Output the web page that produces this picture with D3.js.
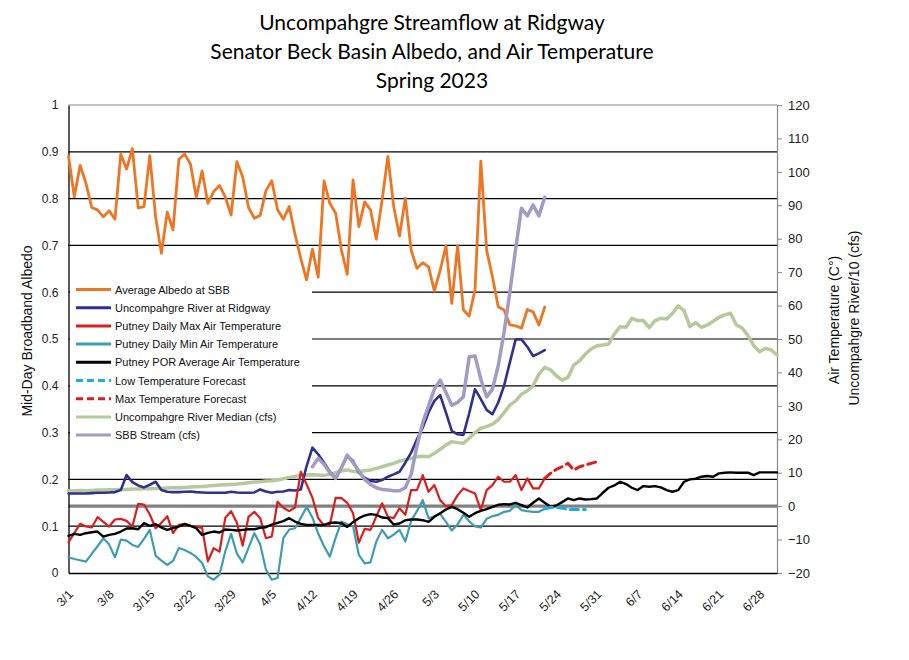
<!DOCTYPE html>
<html><head><meta charset="utf-8">
<script src="https://cdn.jsdelivr.net/npm/d3@7"></script>
<style>
body{margin:0;background:#fff;}
svg{display:block;font-family:"Liberation Sans",Arial,sans-serif;}
</style></head>
<body><svg id="chart" width="909" height="660"></svg>
<script>
// ---------- DATA ----------
const titleLines = ["Uncompahgre Streamflow at Ridgway","Senator Beck Basin Albedo, and Air Temperature","Spring  2023"];
const startDate = "2023-03-01";
const endDate = "2023-07-01";
const xTickLabels = ["3/1","3/8","3/15","3/22","3/29","4/5","4/12","4/19","4/26","5/3","5/10","5/17","5/24","5/31","6/7","6/14","6/21","6/28"];
const leftTicks = [0,0.1,0.2,0.3,0.4,0.5,0.6,0.7,0.8,0.9,1];
const leftTickLabels = ["0","0.1","0.2","0.3","0.4","0.5","0.6","0.7","0.8","0.9","1"];
const rightTicks = [-20,-10,0,10,20,30,40,50,60,70,80,90,100,110,120];

// Average Albedo at SBB, daily from 3/1
const albedo = [0.891,0.804,0.871,0.833,0.781,0.776,0.761,0.774,0.756,0.895,
0.863,0.907,0.780,0.783,0.892,0.761,0.683,0.771,0.733,0.884,
0.895,0.874,0.803,0.859,0.790,0.815,0.828,0.803,0.765,0.879,
0.846,0.781,0.758,0.764,0.817,0.838,0.776,0.756,0.783,0.724,
0.672,0.626,0.692,0.632,0.838,0.790,0.769,0.690,0.638,0.840,
0.740,0.793,0.776,0.713,0.797,0.890,0.783,0.720,0.801,0.690,
0.651,0.663,0.654,0.603,0.647,0.699,0.576,0.699,0.562,0.549,
0.605,0.880,0.690,0.633,0.569,0.562,0.530,0.528,0.523,0.563,
0.558,0.530,0.568];

// Uncompahgre River at Ridgway (cfs/10), daily from 3/1
const river = [3.8,3.8,3.8,3.8,3.9,4.0,4.0,4.1,4.2,4.8,
9.3,7.2,6.2,5.6,6.4,7.3,4.8,4.3,4.2,4.2,
4.3,4.4,4.2,4.1,4.0,4.0,4.0,4.0,4.3,4.1,
4.0,4.0,4.1,5.0,4.4,4.0,4.3,4.4,4.8,4.7,
5.0,12.0,17.5,15.5,13.0,10.3,8.3,11.5,15.0,13.5,
10.0,8.5,7.5,7.3,7.8,8.8,9.5,10.3,13.0,16.0,
20.0,23.5,28.0,31.5,33.2,28.0,22.5,21.5,21.3,27.8,
35.0,32.0,28.8,27.5,31.0,36.0,43.0,49.9,49.9,47.7,
44.9,45.7,46.7];

// Putney Daily Max Air Temperature (C), daily from 3/1
const tMax = [-10.8,-8.1,-5.3,-6.1,-6.4,-3.3,-4.7,-6.1,-4.0,-3.8,
-4.4,-6.1,0.7,0.5,-2.5,-6.6,-5.0,-3.0,-8.1,-5.6,
-5.4,-5.9,-6.2,-6.5,-16.5,-12.6,-13.6,-3.5,-1.5,-5.0,
-11.8,-3.2,-1.7,-3.6,-9.6,-9.1,1.3,-0.5,-1.5,-0.4,
10.3,6.5,2.5,-3.6,-5.8,-5.6,2.5,2.4,1.0,-2.1,
-10.9,-6.8,-7.1,-3.1,0.85,-3.2,-3.6,-0.65,-2.6,4.8,
4.8,9.3,4.3,6.3,1.8,0.0,0.3,3.3,5.3,4.5,
3.8,-1.2,4.8,6.3,8.8,7.3,7.3,9.3,4.8,8.3,
5.3,5.3,8.3];

// Putney Daily Min Air Temperature (C), daily from 3/1
const tMin = [-15.3,-15.8,-16.2,-16.6,-14.3,-12.0,-9.6,-11.5,-15.3,-10.0,
-10.3,-11.6,-12.2,-9.8,-7.1,-14.8,-16.3,-17.6,-16.4,-12.5,
-13.1,-14.0,-15.2,-17.0,-21.0,-22.0,-20.5,-13.5,-8.3,-14.2,
-16.8,-12.5,-8.1,-11.4,-19.0,-22.0,-21.5,-9.5,-7.0,-6.6,
-3.5,-0.3,-3.4,-8.2,-12.0,-15.1,-9.4,-4.6,-5.4,-6.0,
-14.6,-17.1,-16.8,-10.6,-7.1,-9.6,-8.5,-7.1,-10.6,-4.4,
-1.5,1.8,-3.6,-3.0,-2.3,-4.7,-7.3,-5.5,-2.6,-4.5,
-6.1,-6.4,-3.8,-3.0,-2.6,-1.7,-1.4,0.3,-1.2,-1.5,
-1.7,-1.7,-0.8];

// Putney POR Average Air Temperature (C), daily from 3/1 to 7/1
const tPOR = [-8.9,-8.3,-8.6,-8.1,-7.8,-7.6,-9.1,-8.6,-8.3,-7.6,
-6.7,-6.6,-6.9,-5.1,-5.9,-5.4,-6.4,-7.1,-6.6,-6.1,
-5.3,-5.9,-6.6,-8.6,-8.0,-7.6,-7.9,-7.0,-7.1,-7.3,
-7.1,-6.9,-6.9,-6.5,-6.3,-5.5,-5.0,-4.5,-3.6,-4.6,
-5.3,-5.6,-5.6,-5.6,-5.6,-5.0,-4.9,-5.1,-6.2,-4.8,
-3.6,-2.8,-2.4,-2.6,-3.4,-3.6,-5.5,-5.2,-4.2,-4.0,
-4.0,-4.2,-4.7,-3.2,-2.1,-1.0,-0.2,-0.9,-2.0,-3.2,
-2.1,-1.4,-0.9,-0.2,0.4,0.6,0.5,1.0,0.3,-0.4,
1.0,2.3,1.0,-0.2,0.2,1.2,2.3,1.8,2.3,2.0,
2.1,2.3,4.0,5.5,6.2,7.3,6.6,5.5,4.8,6.0,
5.8,6.0,5.6,4.8,4.3,4.8,7.3,8.0,8.2,8.8,
9.0,8.8,9.8,10.0,10.1,10.0,10.0,10.0,9.3,10.1,
10.1,10.1,10.1];

// Forecasts starting 5/22
const forecastStart = "2023-05-22";
const lowForecast = [-0.8,-0.4,-0.4,-0.6,-1.0,-1.0,-1.0,-1.0];
const maxForecast = [8.3,9.8,11.0,11.8,12.8,10.8,11.8,12.3,12.8,13.3];

// Uncompahgre River Median (cfs/10), daily from 3/1 to 7/1
const riverMedian = [4.6,4.6,4.7,4.6,4.7,4.8,4.8,4.9,4.9,5.0,
5.0,5.1,5.1,5.2,5.2,5.3,5.3,5.4,5.5,5.5,
5.6,5.7,5.8,5.9,6.0,6.2,6.3,6.4,6.5,6.6,
6.8,7.0,7.2,7.3,7.5,7.6,7.8,8.2,8.6,8.9,
9.2,9.3,9.4,9.3,9.2,9.5,10.0,10.5,10.8,10.4,
10.3,10.6,10.8,11.3,11.8,12.3,12.8,13.5,13.9,14.3,
14.8,14.9,14.8,15.8,17.0,18.3,19.3,19.0,18.8,20.3,
22.0,23.3,23.8,24.5,25.8,28.0,30.2,31.5,33.5,34.5,
36.0,39.5,41.5,40.8,39.0,37.7,38.5,42.2,43.5,45.5,
47.0,48.0,48.2,48.5,51.5,53.7,53.5,56.2,55.5,55.5,
53.4,55.5,56.2,56.0,57.7,59.9,58.5,53.7,54.9,53.5,
54.2,55.3,56.5,57.2,57.7,54.2,53.3,51.0,48.0,46.2,
47.2,46.7,45.2];

// SBB Stream (cfs), daily from 4/12
const sbbStart = "2023-04-12";
const sbbStream = [11.8,14.3,12.5,10.0,8.3,11.5,15.3,13.0,10.5,8.0,
6.5,5.5,5.0,4.8,4.6,4.6,5.5,9.5,18.0,25.0,
30.0,35.0,37.7,34.0,30.2,31.0,32.7,44.7,44.9,38.0,
32.7,35.0,42.0,52.0,64.0,77.0,89.1,86.8,90.1,86.8,
92.4];

const legendNames = ["Average Albedo at SBB","Uncompahgre River at Ridgway","Putney Daily Max Air Temperature","Putney Daily Min Air Temperature","Putney POR Average Air Temperature","Low Temperature Forecast","Max Temperature Forecast","Uncompahgre River Median (cfs)","SBB Stream (cfs)"];

// ---------- CHART ----------
const svg = d3.select("#chart");
const M = {left:68.5, right:777, top:105, bottom:573};
const parse = d3.utcParse("%Y-%m-%d");
const d0 = parse(startDate);
const x = d3.scaleUtc().domain([d0, parse(endDate)]).range([M.left, M.right]);
const yL = d3.scaleLinear().domain([0,1]).range([M.bottom, M.top]);
const yR = d3.scaleLinear().domain([-20,120]).range([M.bottom, M.top]);

function series(arr, start){
  const s = parse(start);
  return arr.map((v,i)=>({date:d3.utcDay.offset(s,i), v}));
}

// title
svg.append("g").selectAll("text").data(titleLines).join("text")
  .attr("x", 432).attr("y",(d,i)=>30+i*29)
  .attr("text-anchor","middle")
  .style("font-family","Lato, 'Open Sans', sans-serif")
  .style("font-size","21px").attr("fill","#000")
  .text(d=>d);

// gridlines (albedo 0.1 steps)
svg.append("g").selectAll("line").data(leftTicks.filter(t=>t>0 && t<1)).join("line")
  .attr("x1",M.left).attr("x2",M.right)
  .attr("y1",d=>yL(d)).attr("y2",d=>yL(d))
  .attr("stroke","#000").attr("stroke-width",1.2);
// top border
svg.append("line").attr("x1",M.left).attr("x2",M.right).attr("y1",M.top).attr("y2",M.top)
  .attr("stroke","#888").attr("stroke-width",1.2);

// zero temperature line
svg.append("line").attr("x1",M.left).attr("x2",M.right).attr("y1",yR(0)).attr("y2",yR(0))
  .attr("stroke","#808080").attr("stroke-width",3.2);

// axes
const gL = svg.append("g").attr("transform",`translate(${M.left},0)`)
  .call(d3.axisLeft(yL).tickValues(leftTicks).tickSize(0).tickPadding(10)
     .tickFormat((d,i)=>leftTickLabels[i]));
gL.select(".domain").attr("stroke","#000").attr("stroke-width",1.3);
gL.selectAll("text").style("font-size","12px").attr("fill","#222").style("font-family","'Liberation Sans',Arial,sans-serif");

const gR = svg.append("g").attr("transform",`translate(${M.right},0)`)
  .call(d3.axisRight(yR).tickValues(rightTicks).tickSize(5).tickPadding(6));
gR.select(".domain").attr("stroke","#888").attr("stroke-width",1.2);
gR.selectAll(".tick line").attr("stroke","#888");
gR.selectAll("text").style("font-size","13px").attr("fill","#222").style("font-family","'Liberation Sans',Arial,sans-serif");

const tickDates = xTickLabels.map((t,i)=>d3.utcDay.offset(d0, i*7));
const gB = svg.append("g").attr("transform",`translate(0,${M.bottom})`)
  .call(d3.axisBottom(x).tickValues(tickDates).tickSize(0).tickFormat((d,i)=>xTickLabels[i]));
gB.select(".domain").attr("stroke","#000").attr("stroke-width",1.3);
gB.selectAll("text").style("font-size","12.5px").attr("fill","#222")
  .style("font-family","'Liberation Sans',Arial,sans-serif")
  .attr("text-anchor","end").attr("dy",null).attr("y",0)
  .attr("transform","translate(5,22) rotate(-45)");

// axis titles
svg.append("text").attr("transform","translate(32,331) rotate(-90)")
  .attr("text-anchor","middle").style("font-size","14px").attr("fill","#111")
  .text("Mid-Day Broadband Albedo");
svg.append("text").attr("transform","translate(839,320) rotate(-90)")
  .attr("text-anchor","middle").style("font-size","14px").attr("fill","#111")
  .text("Air Temperature (C°)");
svg.append("text").attr("transform","translate(859,318) rotate(-90)")
  .attr("text-anchor","middle").style("font-size","14px").attr("fill","#111")
  .text("Uncompahgre River/10 (cfs)");

// lines
const lineL = d3.line().x(d=>x(d.date)).y(d=>yL(d.v));
const lineR = d3.line().x(d=>x(d.date)).y(d=>yR(d.v));
const styles = [
  {name:legendNames[0], color:"#EE7623", w:2.8, dash:null},
  {name:legendNames[1], color:"#2E3192", w:2.6, dash:null},
  {name:legendNames[2], color:"#D91E1E", w:2.2, dash:null},
  {name:legendNames[3], color:"#3E9DAE", w:2.2, dash:null},
  {name:legendNames[4], color:"#000000", w:2.4, dash:null},
  {name:legendNames[5], color:"#1AAEE5", w:3, dash:"8,5"},
  {name:legendNames[6], color:"#E01B1B", w:3, dash:"8,5"},
  {name:legendNames[7], color:"#B5C99A", w:3.5, dash:null},
  {name:legendNames[8], color:"#A39BC4", w:3.5, dash:null}
];
function draw(data, gen, st){
  svg.append("path").datum(data).attr("d",gen).attr("fill","none")
    .attr("stroke",st.color).attr("stroke-width",st.w)
    .attr("stroke-linejoin","round").attr("stroke-linecap","round")
    .attr("stroke-dasharray",st.dash);
}
draw(series(albedo,startDate), lineL, styles[0]);
draw(series(riverMedian,startDate), lineR, styles[7]);
draw(series(river,startDate), lineR, styles[1]);
draw(series(tMax,startDate), lineR, styles[2]);
draw(series(tMin,startDate), lineR, styles[3]);
draw(series(tPOR,startDate), lineR, styles[4]);
draw(series(lowForecast,forecastStart), lineR, styles[5]);
draw(series(maxForecast,forecastStart), lineR, styles[6]);
draw(series(sbbStream,sbbStart), lineR, styles[8]);

// legend
const lg = svg.append("g");
lg.append("rect").attr("x",70).attr("y",281).attr("width",242).attr("height",162).attr("fill","#fff");
const items = lg.selectAll("g.item").data(styles).join("g").attr("class","item")
  .attr("transform",(d,i)=>`translate(0,${289.5+i*18.2})`);
items.append("line").attr("x1",76).attr("x2",111).attr("y1",0).attr("y2",0)
  .attr("stroke",d=>d.color).attr("stroke-width",3)
  .attr("stroke-dasharray",d=>d.dash?"7,4":null);
items.append("text").attr("x",115).attr("y",4).style("font-size","11px").attr("fill","#111")
  .text(d=>d.name);
</script></body></html>
